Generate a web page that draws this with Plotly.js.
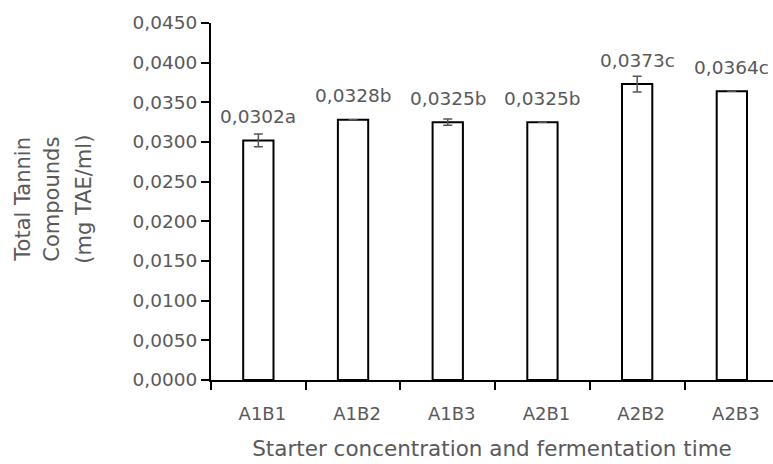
<!DOCTYPE html>
<html>
<head>
<meta charset="utf-8">
<script src="https://cdn.plot.ly/plotly-3.0.1.min.js"></script>
<style>html,body{margin:0;padding:0;background:#fff;}#chart{width:773px;height:464px;}</style>
</head>
<body>
<div id="chart"></div>
<script>
var categories = ["A1B1", "A1B2", "A1B3", "A2B1", "A2B2", "A2B3"];
var values = [0.0302, 0.0328, 0.0325, 0.0325, 0.0373, 0.0364];
var errors = [0.0008, null, 0.0004, null, 0.001, null];
var letters = ["a", "b", "b", "b", "c", "c"];
var yTicks = [0, 0.005, 0.01, 0.015, 0.02, 0.025, 0.03, 0.035, 0.04, 0.045];

var FONT = "DejaVu Sans";
var GREY = "#595959";

var trace = {
  type: "bar",
  x: categories,
  y: values,
  width: 0.32,
  marker: {color: "#ffffff", line: {color: "#000000", width: 2}},
  error_y: {type: "data", array: errors, visible: true, color: "#555555", thickness: 1.5, width: 4.5},
  hoverinfo: "skip"
};

var annotations = categories.map(function (c, i) {
  return {
    x: c, y: values[i], xref: "x", yref: "y",
    text: values[i].toFixed(4).replace(".", ",") + letters[i],
    showarrow: false, yanchor: "middle", xanchor: "center", yshift: 24,
    font: {family: FONT, size: 18.5, color: GREY}
  };
});

var ytitleLines = ["Total Tannin", "Compounds", "(mg TAE/ml)"];
var ytitleX = [23, 52, 84];
ytitleLines.forEach(function (t, i) {
  annotations.push({
    xref: "paper", yref: "paper",
    x: (ytitleX[i] - 211) / 562, y: 0.505,
    text: t, textangle: -90, showarrow: false,
    xanchor: "center", yanchor: "middle",
    font: {family: FONT, size: 21, color: GREY}
  });
});

var layout = {
  width: 773, height: 464,
  margin: {l: 211, r: 0, t: 23, b: 84, pad: 0},
  paper_bgcolor: "#ffffff", plot_bgcolor: "#ffffff",
  separators: ",.",
  showlegend: false,
  font: {family: FONT, color: GREY},
  xaxis: {
    type: "category",
    range: [-0.5, -0.5 + 562 / 94.7],
    showline: true, linecolor: "#000000", linewidth: 2,
    ticks: "outside", tickson: "boundaries", ticklen: 8, tickwidth: 2, tickcolor: "#000000",
    showgrid: false, zeroline: false,
    tickfont: {family: FONT, size: 18, color: GREY},
    ticklabelshift: 4,
    ticklabelstandoff: 16,
    title: {text: "Starter concentration and fermentation time", font: {family: FONT, size: 21.5, color: GREY}, standoff: 18}
  },
  yaxis: {
    range: [0, 0.045],
    tickvals: yTicks,
    tickformat: ".4f",
    showline: true, linecolor: "#000000", linewidth: 2,
    ticks: "outside", ticklen: 8, tickwidth: 2, tickcolor: "#000000",
    showgrid: false, zeroline: false,
    tickfont: {family: FONT, size: 18.5, color: GREY}
  },
  annotations: annotations
};

Plotly.newPlot("chart", [trace], layout, {displayModeBar: false, staticPlot: true});
</script>
</body>
</html>
